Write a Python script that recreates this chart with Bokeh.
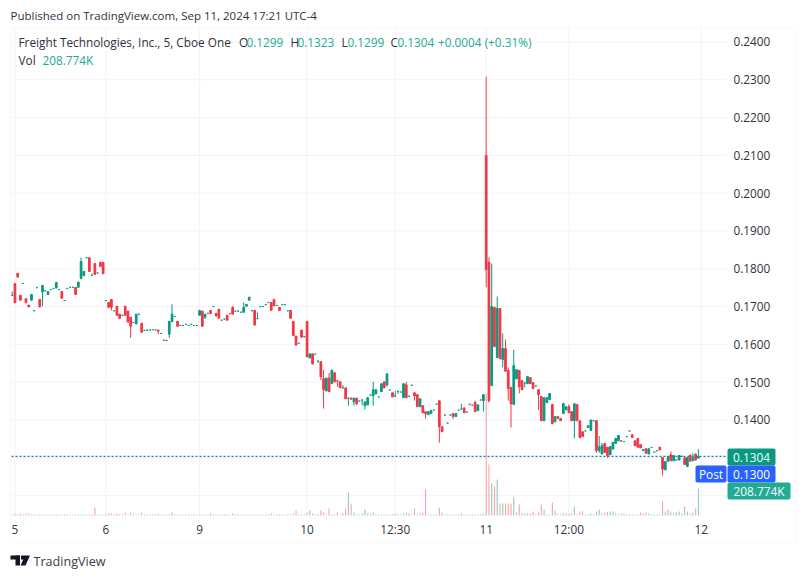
from bokeh.plotting import figure
from bokeh.models import (Range1d, FixedTicker, Label, BoxAnnotation,
                          ColumnDataSource, PolyAnnotation)
from bokeh.embed import file_html
from bokeh.resources import INLINE

open_ = [
 .1729,.1761,.1788,.1730,.1761,.1721,.1704,.1717,.1689,.1750,
 .1719,.1739,.1742,.1732,.1745,.1748,.1749,.1745,.1740,.1716,
 .1748,.1751,.1751,.1751,.1751,.1775,.1782,.1829,.1829,.1782,
 .1814,.1789,.1817,.1817,.1716,.1711,.1719,.1689,.1701,.1680,
 .1677,.1701,.1688,.1672,.1658,.1654,.1680,.1656,.1637,.1638,
 .1638,.1639,.1638,.1638,.1629,.1611,.1611,.1627,.1660,.1674,
 .1661,.1650,.1650,.1653,.1650,.1653,.1650,.1650,.1677,.1688,
 .1672,.1682,.1690,.1700,.1682,.1693,.1664,.1667,.1677,.1682,
 .1698,.1688,.1688,.1685,.1685,.1701,.1717,.1689,.1690,.1668,
 .1700,.1700,.1705,.1711,.1711,.1719,.1703,.1698,.1705,.1705,
 .1689,.1690,.1661,.1622,.1603,.1638,.1620,.1661,.1564,.1575,
 .1574,.1554,.1554,.1509,.1477,.1511,.1496,.1525,.1504,.1501,
 .1485,.1485,.1458,.1458,.1448,.1458,.1450,.1453,.1438,.1440,
 .1466,.1464,.1469,.1461,.1475,.1501,.1493,.1479,.1472,.1463,
 .1476,.1474,.1459,.1493,.1463,.1492,.1472,.1467,.1435,.1438,
 .1422,.1414,.1417,.1426,.1442,.1451,.1382,.1413,.1392,.1413,
 .1417,.1409,.1426,.1429,.1432,.1421,.1442,.1439,.1446,.1425,
 .1453,.1451,.2100,.1817,.1491,.1698,.1565,.1695,.1560,.1589,
 .1531,.1486,.1441,.1509,.1531,.1504,.1498,.1496,.1512,.1499,
 .1490,.1480,.1462,.1398,.1446,.1454,.1441,.1396,.1409,.1404,
 .1417,.1427,.1435,.1422,.1398,.1441,.1398,.1369,.1371,.1380,
 .1372,.1398,.1398,.1319,.1310,.1338,.1328,.1308,.1323,.1338,
 .1345,.1345,.1343,.1356,.1371,.1361,.1345,.1351,.1335,.1319,
 .1324,.1310,.1327,.1315,.1319,.1328,.1301,.1268,.1291,.1308,
 .1292,.1294,.1294,.1304,.1300,.1277,.1307,.1292,.1310,.1299,
]
high = [
 .1740,.1761,.1788,.1730,.1761,.1721,.1704,.1732,.1689,.1750,
 .1719,.1756,.1742,.1740,.1745,.1748,.1764,.1745,.1740,.1716,
 .1748,.1751,.1751,.1751,.1765,.1830,.1793,.1829,.1829,.1788,
 .1814,.1789,.1817,.1817,.1716,.1711,.1719,.1689,.1701,.1680,
 .1677,.1701,.1688,.1672,.1658,.1680,.1680,.1656,.1637,.1639,
 .1638,.1639,.1638,.1638,.1629,.1611,.1611,.1661,.1706,.1674,
 .1661,.1650,.1650,.1653,.1650,.1653,.1650,.1650,.1690,.1688,
 .1680,.1682,.1690,.1700,.1682,.1693,.1664,.1667,.1677,.1682,
 .1701,.1688,.1688,.1685,.1711,.1706,.1725,.1689,.1690,.1685,
 .1700,.1700,.1705,.1711,.1711,.1719,.1703,.1698,.1705,.1705,
 .1689,.1690,.1661,.1622,.1603,.1638,.1620,.1661,.1575,.1575,
 .1574,.1559,.1554,.1532,.1511,.1525,.1532,.1525,.1504,.1501,
 .1493,.1485,.1458,.1458,.1458,.1458,.1450,.1453,.1448,.1459,
 .1466,.1501,.1480,.1461,.1496,.1501,.1522,.1479,.1472,.1477,
 .1476,.1474,.1496,.1501,.1463,.1492,.1472,.1467,.1456,.1438,
 .1422,.1422,.1427,.1426,.1442,.1451,.1382,.1413,.1392,.1413,
 .1417,.1417,.1426,.1443,.1432,.1421,.1442,.1439,.1451,.1440,
 .1453,.1467,.2308,.1830,.1814,.1698,.1727,.1695,.1629,.1613,
 .1539,.1486,.1586,.1533,.1531,.1504,.1498,.1515,.1512,.1499,
 .1490,.1480,.1462,.1459,.1459,.1470,.1443,.1409,.1409,.1404,
 .1446,.1435,.1441,.1422,.1443,.1441,.1398,.1369,.1371,.1385,
 .1400,.1398,.1398,.1358,.1339,.1338,.1328,.1330,.1341,.1351,
 .1359,.1345,.1343,.1356,.1371,.1361,.1345,.1351,.1335,.1322,
 .1324,.1324,.1327,.1315,.1319,.1328,.1301,.1290,.1303,.1317,
 .1306,.1294,.1306,.1304,.1300,.1301,.1307,.1312,.1310,.1323,
]
low = [
 .1729,.1710,.1778,.1717,.1761,.1710,.1699,.1717,.1689,.1750,
 .1699,.1701,.1742,.1732,.1745,.1748,.1749,.1745,.1722,.1716,
 .1748,.1751,.1751,.1732,.1751,.1772,.1782,.1829,.1793,.1782,
 .1785,.1789,.1806,.1787,.1716,.1698,.1690,.1689,.1677,.1669,
 .1677,.1677,.1659,.1617,.1658,.1654,.1680,.1632,.1637,.1638,
 .1638,.1639,.1638,.1627,.1629,.1611,.1610,.1617,.1660,.1674,
 .1648,.1650,.1650,.1653,.1650,.1653,.1650,.1650,.1677,.1648,
 .1667,.1682,.1682,.1700,.1675,.1669,.1664,.1667,.1664,.1681,
 .1680,.1688,.1688,.1685,.1685,.1701,.1717,.1689,.1651,.1668,
 .1700,.1700,.1705,.1711,.1690,.1702,.1703,.1690,.1705,.1705,
 .1689,.1669,.1623,.1598,.1603,.1619,.1620,.1567,.1564,.1548,
 .1574,.1554,.1506,.1430,.1477,.1475,.1496,.1501,.1488,.1485,
 .1485,.1456,.1438,.1455,.1438,.1440,.1450,.1438,.1427,.1440,
 .1466,.1438,.1469,.1461,.1475,.1485,.1488,.1479,.1461,.1463,
 .1469,.1474,.1459,.1459,.1463,.1492,.1451,.1435,.1435,.1419,
 .1403,.1414,.1417,.1426,.1442,.1340,.1369,.1413,.1392,.1413,
 .1403,.1409,.1426,.1429,.1419,.1421,.1441,.1439,.1422,.1425,
 .1453,.1422,.1751,.1446,.1491,.1594,.1565,.1562,.1539,.1529,
 .1451,.1380,.1441,.1509,.1470,.1480,.1486,.1496,.1496,.1483,
 .1490,.1427,.1398,.1398,.1446,.1454,.1390,.1393,.1404,.1398,
 .1417,.1427,.1419,.1398,.1351,.1398,.1353,.1356,.1371,.1380,
 .1372,.1398,.1313,.1313,.1310,.1314,.1300,.1308,.1323,.1338,
 .1345,.1344,.1343,.1356,.1371,.1354,.1332,.1328,.1326,.1319,
 .1312,.1310,.1327,.1315,.1319,.1321,.1253,.1268,.1291,.1292,
 .1292,.1294,.1294,.1304,.1282,.1277,.1291,.1292,.1294,.1299,
]
close = [
 .1730,.1710,.1778,.1717,.1761,.1710,.1699,.1732,.1689,.1750,
 .1699,.1756,.1742,.1740,.1745,.1748,.1764,.1745,.1722,.1716,
 .1748,.1751,.1751,.1732,.1765,.1819,.1793,.1829,.1793,.1782,
 .1785,.1789,.1806,.1787,.1716,.1698,.1698,.1689,.1677,.1669,
 .1677,.1677,.1659,.1648,.1658,.1680,.1680,.1632,.1637,.1638,
 .1638,.1639,.1638,.1635,.1629,.1611,.1610,.1661,.1680,.1674,
 .1648,.1650,.1650,.1653,.1650,.1653,.1650,.1650,.1690,.1648,
 .1680,.1682,.1682,.1700,.1675,.1669,.1664,.1667,.1664,.1681,
 .1680,.1688,.1688,.1685,.1698,.1706,.1725,.1689,.1651,.1668,
 .1700,.1700,.1705,.1711,.1690,.1702,.1703,.1690,.1705,.1705,
 .1689,.1669,.1623,.1598,.1603,.1619,.1620,.1567,.1575,.1548,
 .1574,.1554,.1514,.1480,.1511,.1475,.1532,.1501,.1503,.1485,
 .1485,.1456,.1458,.1455,.1458,.1443,.1450,.1453,.1448,.1459,
 .1466,.1480,.1480,.1461,.1496,.1485,.1522,.1479,.1461,.1463,
 .1476,.1474,.1496,.1459,.1463,.1492,.1464,.1435,.1456,.1419,
 .1417,.1422,.1425,.1426,.1442,.1382,.1369,.1413,.1392,.1413,
 .1409,.1417,.1426,.1429,.1419,.1421,.1441,.1439,.1422,.1440,
 .1453,.1467,.1798,.1451,.1700,.1594,.1695,.1562,.1589,.1529,
 .1483,.1443,.1544,.1533,.1488,.1480,.1498,.1515,.1496,.1483,
 .1490,.1467,.1398,.1459,.1459,.1470,.1390,.1409,.1404,.1398,
 .1443,.1435,.1419,.1398,.1443,.1398,.1353,.1356,.1371,.1385,
 .1400,.1398,.1319,.1329,.1332,.1314,.1306,.1330,.1341,.1351,
 .1359,.1344,.1343,.1356,.1371,.1354,.1332,.1328,.1326,.1322,
 .1312,.1324,.1327,.1315,.1319,.1321,.1270,.1290,.1303,.1292,
 .1306,.1294,.1306,.1304,.1282,.1301,.1291,.1300,.1294,.1304,
]
volume_k = [
 8,15,8,15,8,15,15,8,8,8,
 8,8,8,8,8,8,8,8,8,8,
 8,8,8,8,8,8,8,8,8,8,
 62,8,8,8,8,15,15,8,15,8,
 8,23,8,23,8,8,8,23,8,8,
 8,8,8,15,8,8,8,8,23,8,
 8,8,8,8,8,8,8,8,8,8,
 8,8,15,8,8,8,8,8,8,8,
 15,8,8,8,8,8,8,8,8,8,
 8,8,8,8,15,8,8,8,8,8,
 8,8,15,39,8,8,8,23,39,15,
 8,8,39,23,8,54,8,8,23,8,
 15,54,178,93,23,8,8,15,46,15,
 8,23,8,8,8,8,8,8,8,15,
 8,8,15,23,15,8,54,8,15,23,
 201,8,8,8,8,62,23,8,8,8,
 8,8,8,15,8,8,8,8,8,8,
 8,15,943,394,247,224,278,93,93,93,
 93,93,139,23,85,15,15,15,15,31,
 8,23,85,46,8,8,100,39,15,8,
 15,15,15,15,70,8,31,31,8,8,
 15,8,31,46,15,23,28,31,31,15,
 8,15,15,8,8,8,8,8,23,15,
 23,15,8,8,8,8,108,31,46,31,
 13,23,31,13,70,31,15,23,54,208.774,
]
price_ticks = [0.14, 0.15, 0.16, 0.17, 0.18, 0.19, 0.20, 0.21, 0.22, 0.23, 0.24]
grid_ticks = [0.12, 0.13] + price_ticks
time_positions = [1, 34, 68, 107, 139, 172, 202, 250]
time_labels = ["5", "6", "9", "10", "12:30", "11", "12:00", "12"]

UP, DOWN = "#089981", "#F23645"
UP_V, DOWN_V = "#8ACDC2", "#F9A3A9"
FONT = "Open Sans"
TXT = "#2f323c"
GRID = "#F2F3F7"

# pane bounds in data units
X_L, X_R = -0.25, 259.2
Y_B, Y_T = 0.11447, 0.24383

n = len(close)
idx = list(range(n))
colors = [UP if c >= o else DOWN for o, c in zip(open_, close)]
vcolors = [UP_V if c >= o else DOWN_V for o, c in zip(open_, close)]
src = ColumnDataSource(dict(
    x=idx, o=open_, h=high, l=low, c=close, v=volume_k, col=colors, vcol=vcolors,
    top=[max(a, b) for a, b in zip(open_, close)],
    bot=[min(a, b) for a, b in zip(open_, close)],
))

p = figure(width=800, height=572, output_backend="svg", toolbar_location=None,
           x_range=Range1d(-4.2416, 286.05), y_range=Range1d(0.099656, 0.25097),
           x_axis_location="below", y_axis_location="right",
           min_border_left=0, min_border_right=0, min_border_top=0, min_border_bottom=0)
p.outline_line_color = None
p.background_fill_color = "white"
p.extra_y_ranges = {"vol": Range1d(-440.9, 3980.7)}

# axes
p.yaxis.fixed_location = X_R
p.yaxis.ticker = FixedTicker(ticks=price_ticks)
p.yaxis.major_label_overrides = {t: f"{t:.4f}" for t in price_ticks}
p.yaxis.axis_line_color = None
p.yaxis.major_tick_line_color = None
p.yaxis.minor_tick_line_color = None
p.yaxis.major_tick_out = 0
p.yaxis.major_label_standoff = 7
p.yaxis.major_label_text_font = FONT
p.yaxis.major_label_text_font_size = "11.8px"
p.yaxis.major_label_text_color = TXT

p.xaxis.fixed_location = Y_B
p.xaxis.ticker = FixedTicker(ticks=time_positions)
p.xaxis.major_label_overrides = dict(zip(time_positions, time_labels))
p.xaxis.axis_line_color = None
p.xaxis.major_tick_line_color = None
p.xaxis.minor_tick_line_color = None
p.xaxis.major_tick_out = 0
p.xaxis.major_label_standoff = 5
p.xaxis.major_label_text_font = FONT
p.xaxis.major_label_text_font_size = "11.8px"
p.xaxis.major_label_text_color = TXT

# grid confined to the chart pane
p.grid.visible = False
p.segment(x0=time_positions, x1=time_positions, y0=Y_B, y1=Y_T, line_color=GRID, line_width=1)
p.segment(x0=X_L, x1=X_R, y0=grid_ticks, y1=grid_ticks, line_color=GRID, line_width=1)

# volume, candles
p.vbar(x="x", top="v", bottom=0, width=0.4, source=src, y_range_name="vol",
       fill_color="vcol", line_color=None)
p.segment(x0="x", x1="x", y0="l", y1="h", source=src, line_color="col", line_width=1)
p.vbar(x="x", top="top", bottom="bot", width=0.62, source=src,
       fill_color="col", line_color="col", line_width=1)
p.segment(x0=X_L, x1=X_R, y0=close[-1], y1=close[-1], line_color="#0B85A0",
          line_width=1.2, line_dash="2 2")


def box(l, t, r, b, fill=None, line=None, lw=0, radius=0):
    p.add_layout(BoxAnnotation(left=l, right=r, top=t, bottom=b,
                               left_units="canvas", right_units="canvas",
                               top_units="canvas", bottom_units="canvas",
                               fill_color=fill, fill_alpha=1 if fill else 0,
                               line_color=line, line_width=lw, border_radius=radius,
                               level="overlay", editable=False))


def text(px, py, t, color=TXT, size="11.8px", align="left"):
    p.add_layout(Label(x=px, y=py, x_units="canvas", y_units="canvas", text=t,
                       text_color=color, text_font=FONT, text_font_size=size,
                       text_align=align, text_baseline="middle", level="overlay"))


# chart frame
box(10, 27, 795, 543, line="#F0F3FA", lw=2)

# price tags
box(727, 448, 775, 465, fill=UP, radius=2)
box(695, 465, 726, 482, fill="#2962FF", radius=2)
box(727, 465, 775, 482, fill="#2962FF", radius=2)
box(727, 482, 790, 499, fill="#22AB94", radius=2)
text(751, 456.5, "0.1304", color="white", align="center")
text(751, 473.5, "0.1300", color="white", align="center")
text(710.5, 473.5, "Post", color="white", align="center")
text(758.5, 490.5, "208.774K", color="white", align="center")

# header
text(10, 15, "Published on TradingView.com, Sep 11, 2024 17:21 UTC-4", size="11.5px")
text(18, 41.5, "Freight Technologies, Inc., 5, Cboe One")
VAL = "#22AB94"
for x_l, ch, x_v, val in [(238.5, "O", 246, "0.1299"), (290, "H", 297, "0.1323"),
                          (341, "L", 347, "0.1299"), (390, "C", 397, "0.1304")]:
    text(x_l, 41.5, ch)
    text(x_v, 41.5, val, color=VAL)
text(437.5, 41.5, "+0.0004 (+0.31%)", color=VAL)
text(18, 59, "Vol")
text(42, 59, "208.774K", color=VAL)

# footer logo and name
box(10, 555, 19.5, 559, fill="#131722")
box(15, 555, 19.5, 565, fill="#131722")
p.add_layout(PolyAnnotation(xs=[20.5, 24.5, 24.5, 20.5], ys=[555, 555, 559, 559],
                            xs_units="canvas", ys_units="canvas",
                            fill_color="#131722", fill_alpha=1, line_color=None,
                            editable=False))
p.add_layout(PolyAnnotation(xs=[24.5, 29.5, 25, 20], ys=[555, 555, 565, 565],
                            xs_units="canvas", ys_units="canvas",
                            fill_color="#131722", fill_alpha=1, line_color=None,
                            editable=False))
text(33, 560.5, "TradingView", color="#3a3d47", size="12.6px")

open("out.html", "w").write(file_html(p, INLINE))
